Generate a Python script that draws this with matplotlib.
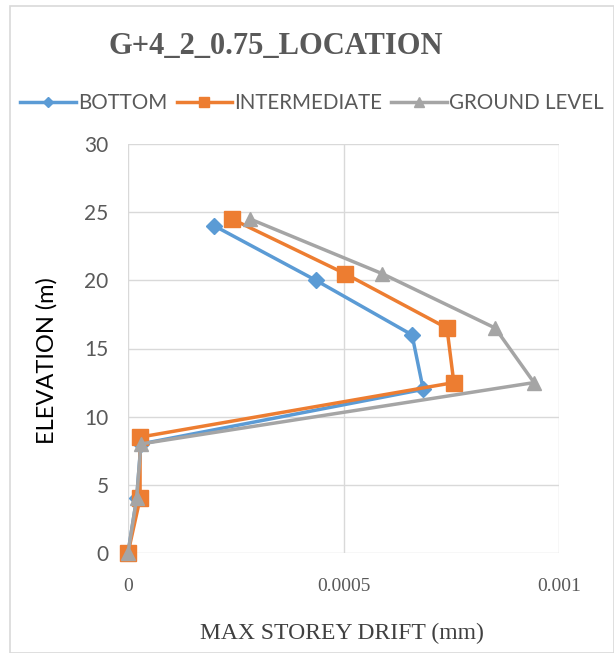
import matplotlib
matplotlib.use("Agg")
import matplotlib.pyplot as plt
from matplotlib.patches import Rectangle

# Storey drift profiles
elevation_bottom = [0, 4, 8, 12, 16, 20, 24]
drift_bottom = [0.0, 0.00002, 0.00003, 0.000685, 0.000659, 0.000436, 0.000200]

elevation_inter = [0, 4, 8.5, 12.5, 16.5, 20.5, 24.5]
drift_inter = [0.0, 0.000028, 0.000028, 0.000756, 0.000740, 0.000503, 0.000241]

elevation_ground = [0, 4, 8, 12.5, 16.5, 20.5, 24.5]
drift_ground = [0.0, 0.00002, 0.00003, 0.000942, 0.000852, 0.000589, 0.000283]

series_names = ["BOTTOM", "INTERMEDIATE", "GROUND LEVEL"]
x_ticks = [0, 0.0005, 0.001]
x_tick_labels = ["0", "0.0005", "0.001"]
y_ticks = [0, 5, 10, 15, 20, 25, 30]

W, H = 614, 653
fig = plt.figure(figsize=(W / 100, H / 100), dpi=100)
fig.patch.set_facecolor("white")

# outer chart frame
fig.patches.append(Rectangle((10 / W, 0.0), (W - 10) / W, (H - 6) / H,
                             transform=fig.transFigure, fill=False,
                             edgecolor="#D9D9D9", linewidth=1.2))

ax = fig.add_axes([128 / W, (H - 553) / H, 431 / W, 409 / H])
for s in ax.spines.values():
    s.set_visible(False)

ax.set_xlim(0, 0.001)
ax.set_ylim(0, 30)
ax.set_xticks(x_ticks)
ax.set_xticklabels(x_tick_labels)
ax.set_yticks(y_ticks)
ax.grid(True, color="#D9D9D9", linewidth=1.0)
ax.set_axisbelow(True)
ax.tick_params(length=0)
ax.tick_params(axis="x", pad=18, labelsize=14, labelcolor="#595959")
ax.tick_params(axis="y", pad=14, labelsize=15, labelcolor="#595959")
for lbl in ax.get_xticklabels():
    lbl.set_family("Liberation Serif")
for lbl in ax.get_yticklabels():
    lbl.set_family("Lato")

colors = ["#5B9BD5", "#ED7D31", "#A5A5A5"]
markers = ["D", "s", "^"]
msizes = [8, 11, 10]
data = [(drift_bottom, elevation_bottom),
        (drift_inter, elevation_inter),
        (drift_ground, elevation_ground)]
for (x, y), c, m, ms, name in zip(data, colors, markers, msizes, series_names):
    ax.plot(x, y, color=c, marker=m, markersize=ms, linewidth=2.5,
            label=name, clip_on=False, zorder=3)

leg = fig.legend(loc="center", bbox_to_anchor=(312 / W, 1 - 103 / H), ncol=3,
                 frameon=False, handlelength=2.7, handletextpad=0.1,
                 columnspacing=0.45, markerscale=0.7,
                 prop={"family": "Lato", "size": 14.8})
for t in leg.get_texts():
    t.set_color("#595959")

fig.text(276 / W, 1 - 47 / H, "G+4_2_0.75_LOCATION", ha="center", va="center",
         family="Liberation Serif", fontweight="bold", fontsize=22,
         color="#595959")

fig.text(47 / W, 1 - 361 / H, "ELEVATION (m)", rotation=90, ha="center",
         va="center", family="Lato", fontsize=17, color="black")

fig.text(342 / W, 1 - 633 / H, "MAX STOREY DRIFT (mm)", ha="center",
         va="center", family="Liberation Serif", fontsize=17, color="#404040")

fig.savefig("out.png", dpi=100, facecolor="white")
